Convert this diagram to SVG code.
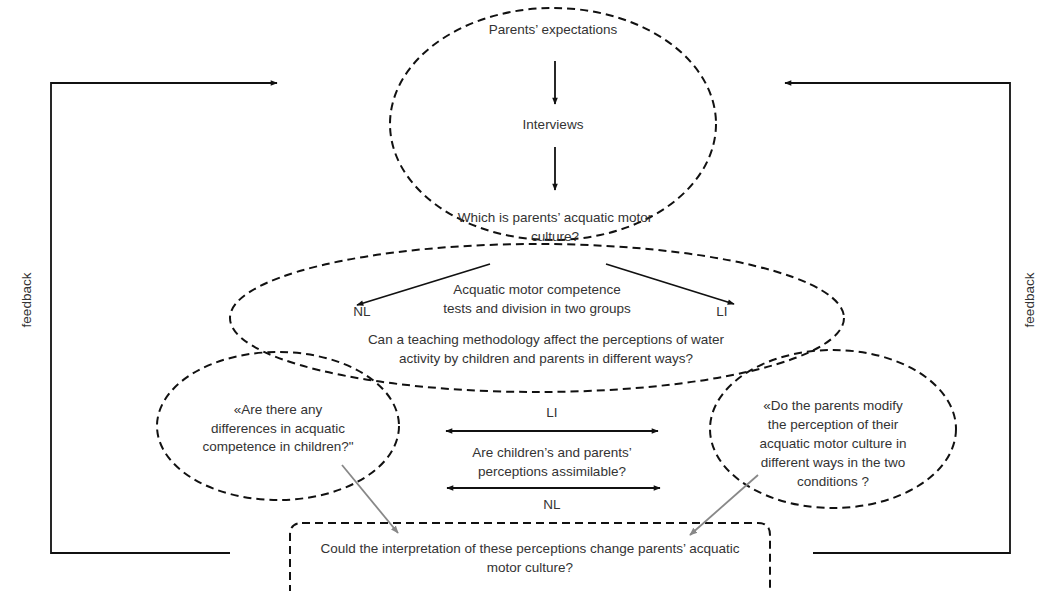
<svg xmlns="http://www.w3.org/2000/svg" width="1041" height="591" viewBox="0 0 1041 591">
<style>
.d{fill:none;stroke:#111;stroke-width:2;stroke-dasharray:8 5}
.t{font-family:"Liberation Sans",Arial,sans-serif;font-size:13.5px;fill:#333;text-anchor:middle}
.c{fill:none;stroke:#111;stroke-width:1.8}
.g{fill:none;stroke:#888;stroke-width:1.8}
</style>
<defs>
<marker id="ah" viewBox="0 0 10 10" refX="9" refY="5" markerWidth="8" markerHeight="7" orient="auto-start-reverse" markerUnits="userSpaceOnUse"><path d="M0,1 L10,5 L0,9 z" fill="#111"/></marker>
<marker id="ag" viewBox="0 0 10 10" refX="9" refY="5" markerWidth="8" markerHeight="8" orient="auto" markerUnits="userSpaceOnUse"><path d="M0,1 L10,5 L0,9 z" fill="#888"/></marker>
</defs>
<rect width="1041" height="591" fill="#fff"/>
<g id="top">
<ellipse class="d" cx="553" cy="124" rx="163" ry="116"/>
<text class="t" x="553" y="34">Parents’ expectations</text>
<text class="t" x="553" y="129">Interviews</text>
<text class="t" x="555" y="222">Which is parents’ acquatic motor</text>
<text class="t" x="555" y="241">culture?</text>
</g>
<g id="middle">
<ellipse class="d" cx="537" cy="318" rx="307" ry="74"/>
<text class="t" x="537" y="294">Acquatic motor competence</text>
<text class="t" x="537" y="313">tests and division in two groups</text>
<text class="t" x="362" y="316">NL</text>
<text class="t" x="722" y="316">LI</text>
<text class="t" x="546" y="344">Can a teaching methodology affect the perceptions of water</text>
<text class="t" x="546" y="363">activity by children and parents in different ways?</text>
</g>
<g id="left">
<ellipse class="d" cx="278" cy="426" rx="121" ry="74"/>
<text class="t" x="278" y="414">«Are there any</text>
<text class="t" x="278" y="433">differences in  acquatic</text>
<text class="t" x="278" y="451">competence in children?"</text>
</g>
<g id="right">
<ellipse class="d" cx="833" cy="429" rx="123" ry="79"/>
<text class="t" x="833" y="410">«Do the parents modify</text>
<text class="t" x="833" y="429">the perception of their</text>
<text class="t" x="833" y="448">acquatic motor culture in</text>
<text class="t" x="833" y="467">different ways in the two</text>
<text class="t" x="833" y="486">conditions ?</text>
</g>
<g id="center">
<text class="t" x="552" y="417">LI</text>
<text class="t" x="552" y="457">Are children’s and parents’</text>
<text class="t" x="552" y="476">perceptions assimilable?</text>
<text class="t" x="552" y="509">NL</text>
</g>
<g id="bottom">
<path class="d" d="M302,523 H758 Q770,523 770,535 V593 M290,593 V535 Q290,523 302,523"/>
<text class="t" x="530" y="553">Could the interpretation of these perceptions change parents’ acquatic</text>
<text class="t" x="530" y="572">motor culture?</text>
</g>
<g id="fb-left">
<text class="t" transform="translate(31,300) rotate(-90)">feedback</text>
</g>
<g id="fb-right">
<text class="t" transform="translate(1034,300) rotate(-90)">feedback</text>
</g>
<g id="connectors">
<line class="c" x1="555" y1="61" x2="555" y2="104" marker-end="url(#ah)"/>
<line class="c" x1="555" y1="147" x2="555" y2="190" marker-end="url(#ah)"/>
<line class="c" x1="490" y1="264" x2="357" y2="305" marker-end="url(#ah)"/>
<line class="c" x1="606" y1="264" x2="734" y2="304" marker-end="url(#ah)"/>
<line class="c" x1="446" y1="431" x2="658" y2="431" marker-start="url(#ah)" marker-end="url(#ah)"/>
<line class="c" x1="447" y1="488" x2="660" y2="488" marker-start="url(#ah)" marker-end="url(#ah)"/>
<line class="g" x1="342" y1="465" x2="398" y2="533" marker-end="url(#ag)"/>
<line class="g" x1="758" y1="475" x2="690" y2="535" marker-end="url(#ag)"/>
<polyline class="c" points="230,553 51,553 51,83 277,83" marker-end="url(#ah)"/>
<polyline class="c" points="813,553 1010,553 1010,83 785,83" marker-end="url(#ah)"/>
</g>
</svg>
